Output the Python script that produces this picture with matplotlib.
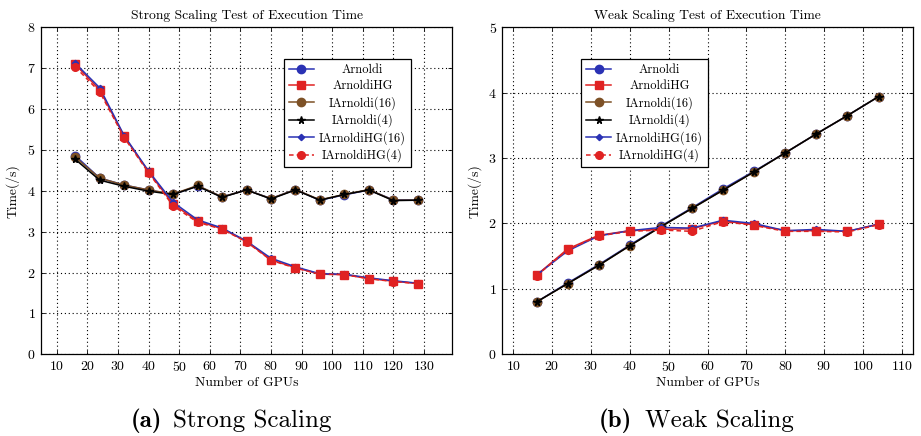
import matplotlib
matplotlib.use("Agg")
import matplotlib.pyplot as plt

plt.rcParams['font.family'] = ['cmr10', 'DejaVu Serif']
plt.rcParams['axes.formatter.use_mathtext'] = True
plt.rcParams['mathtext.fontset'] = 'cm'

# ---------------- data ----------------
x_strong = [16, 24, 32, 40, 48, 56, 64, 72, 80, 88, 96, 104, 112, 120, 128]
s_arnoldi   = [4.86, 4.31, 4.14, 4.02, 3.91, 4.12, 3.85, 4.02, 3.81, 4.03, 3.77, 3.90, 4.02, 3.78, 3.77]
s_arnoldiHG = [7.09, 6.47, 5.33, 4.46, 3.67, 3.26, 3.07, 2.76, 2.31, 2.12, 1.96, 1.95, 1.85, 1.79, 1.73]
s_iarn16    = [4.82, 4.31, 4.14, 4.02, 3.92, 4.13, 3.85, 4.02, 3.81, 4.03, 3.78, 3.91, 4.03, 3.77, 3.77]
s_iarn4     = [4.77, 4.26, 4.11, 3.99, 3.91, 4.11, 3.84, 4.02, 3.80, 4.02, 3.77, 3.91, 4.02, 3.76, 3.77]
s_iarnHG16  = [7.12, 6.52, 5.35, 4.48, 3.72, 3.29, 3.09, 2.77, 2.35, 2.14, 1.97, 1.96, 1.87, 1.80, 1.74]
s_iarnHG4   = [7.03, 6.42, 5.30, 4.44, 3.63, 3.23, 3.06, 2.75, 2.30, 2.11, 1.96, 1.95, 1.85, 1.78, 1.73]

x_weak = [16, 24, 32, 40, 48, 56, 64, 72, 80, 88, 96, 104]
w_arnoldi   = [0.80, 1.09, 1.37, 1.67, 1.96, 2.24, 2.53, 2.80, 3.08, 3.37, 3.65, 3.94]
w_arnoldiHG = [1.21, 1.61, 1.82, 1.89, 1.91, 1.92, 2.04, 1.98, 1.89, 1.89, 1.88, 1.99]
w_iarn16    = [0.80, 1.08, 1.36, 1.66, 1.95, 2.23, 2.51, 2.79, 3.08, 3.37, 3.65, 3.94]
w_iarn4     = [0.80, 1.08, 1.36, 1.66, 1.95, 2.23, 2.51, 2.79, 3.08, 3.37, 3.65, 3.94]
w_iarnHG16  = [1.21, 1.58, 1.81, 1.89, 1.94, 1.93, 2.05, 2.00, 1.89, 1.91, 1.88, 1.99]
w_iarnHG4   = [1.20, 1.60, 1.81, 1.88, 1.90, 1.88, 2.03, 1.97, 1.88, 1.88, 1.87, 1.98]

labels = ['Arnoldi', 'ArnoldiHG', 'IArnoldi(16)', 'IArnoldi(4)', 'IArnoldiHG(16)', 'IArnoldiHG(4)']

BLUE = '#2a32b4'
RED = '#e02222'
BROWN = '#7d5126'
BLACK = '#000000'

styles = [
    dict(color=BLUE, marker='o', ls='-', ms=6.0, lw=1.1),
    dict(color=RED, marker='s', ls='-', ms=6.0, lw=1.1),
    dict(color=BROWN, marker='o', ls='-', ms=6.0, lw=1.1),
    dict(color=BLACK, marker='*', ls='-', ms=5.5, lw=1.1),
    dict(color=BLUE, marker='D', ls='-', ms=3.2, lw=1.1),
    dict(color=RED, marker='o', ls=(0, (3, 2)), ms=5.5, lw=1.1),
]

fig = plt.figure(figsize=(9.21, 4.36), dpi=100)
ax1 = fig.add_axes([0.0445, 0.1874, 0.4463, 0.75])
ax2 = fig.add_axes([0.5454, 0.1874, 0.4456, 0.75])


def setup(ax, title, xlim, ylim, xticks, yticks):
    ax.set_xlim(*xlim)
    ax.set_ylim(*ylim)
    ax.set_xticks(xticks)
    ax.set_yticks(yticks)
    ax.grid(True, color='black', ls=(0, (1, 2.5)), lw=0.8)
    ax.set_axisbelow(True)
    ax.tick_params(direction='in', top=True, right=True, length=3, width=0.6,
                   labelsize=10, pad=4)
    for sp in ax.spines.values():
        sp.set_linewidth(0.9)
    ax.set_title(title, fontsize=9.8, pad=6)
    ax.set_xlabel('Number of GPUs', fontsize=9.8, labelpad=2)
    ax.set_ylabel('Time(/s)', fontsize=9.8, labelpad=5)


series_s = [s_arnoldi, s_arnoldiHG, s_iarn16, s_iarn4, s_iarnHG16, s_iarnHG4]
series_w = [w_arnoldi, w_arnoldiHG, w_iarn16, w_iarn4, w_iarnHG16, w_iarnHG4]

for ys, lab, st in zip(series_s, labels, styles):
    ax1.plot(x_strong, ys, label=lab, **st)
for ys, lab, st in zip(series_w, labels, styles):
    ax2.plot(x_weak, ys, label=lab, **st)

setup(ax1, 'Strong Scaling Test of Execution Time', (4.8, 139.2), (0, 8),
      list(range(10, 131, 10)), list(range(0, 9)))
setup(ax2, 'Weak Scaling Test of Execution Time', (7.2, 112.8), (0, 5),
      list(range(10, 111, 10)), list(range(0, 6)))

legends = []
for ax, anchor in [(ax1, (0.591, 0.902)), (ax2, (0.192, 0.902))]:
    leg = ax.legend(loc='upper left', bbox_to_anchor=anchor, fontsize=9,
                    frameon=True, fancybox=False, framealpha=1,
                    edgecolor='black', handlelength=2.0, labelspacing=0.3,
                    borderpad=0.4, handletextpad=0.4, borderaxespad=0)
    leg.get_frame().set_linewidth(0.9)
    legends.append(leg)

# captions
fig.text(162 / 921, 1 - 427 / 436, '(a)', fontsize=18, ha='right', va='baseline',
         family=['cmb10', 'DejaVu Serif'])
fig.text(173 / 921, 1 - 427 / 436, 'Strong Scaling', fontsize=18, ha='left', va='baseline')
fig.text(632 / 921, 1 - 427 / 436, '(b)', fontsize=18, ha='right', va='baseline',
         family=['cmb10', 'DejaVu Serif'])
fig.text(645 / 921, 1 - 427 / 436, 'Weak Scaling', fontsize=18, ha='left', va='baseline')

# centre legend entries within the text column (pgfplots style)
fig.canvas.draw()
renderer = fig.canvas.get_renderer()
for leg in legends:
    widths = [t.get_window_extent(renderer).width for t in leg.get_texts()]
    wmax = max(widths)
    for t, w in zip(leg.get_texts(), widths):
        t.set_x((wmax - w) / 2.0)

fig.savefig('out.png', dpi=100)
